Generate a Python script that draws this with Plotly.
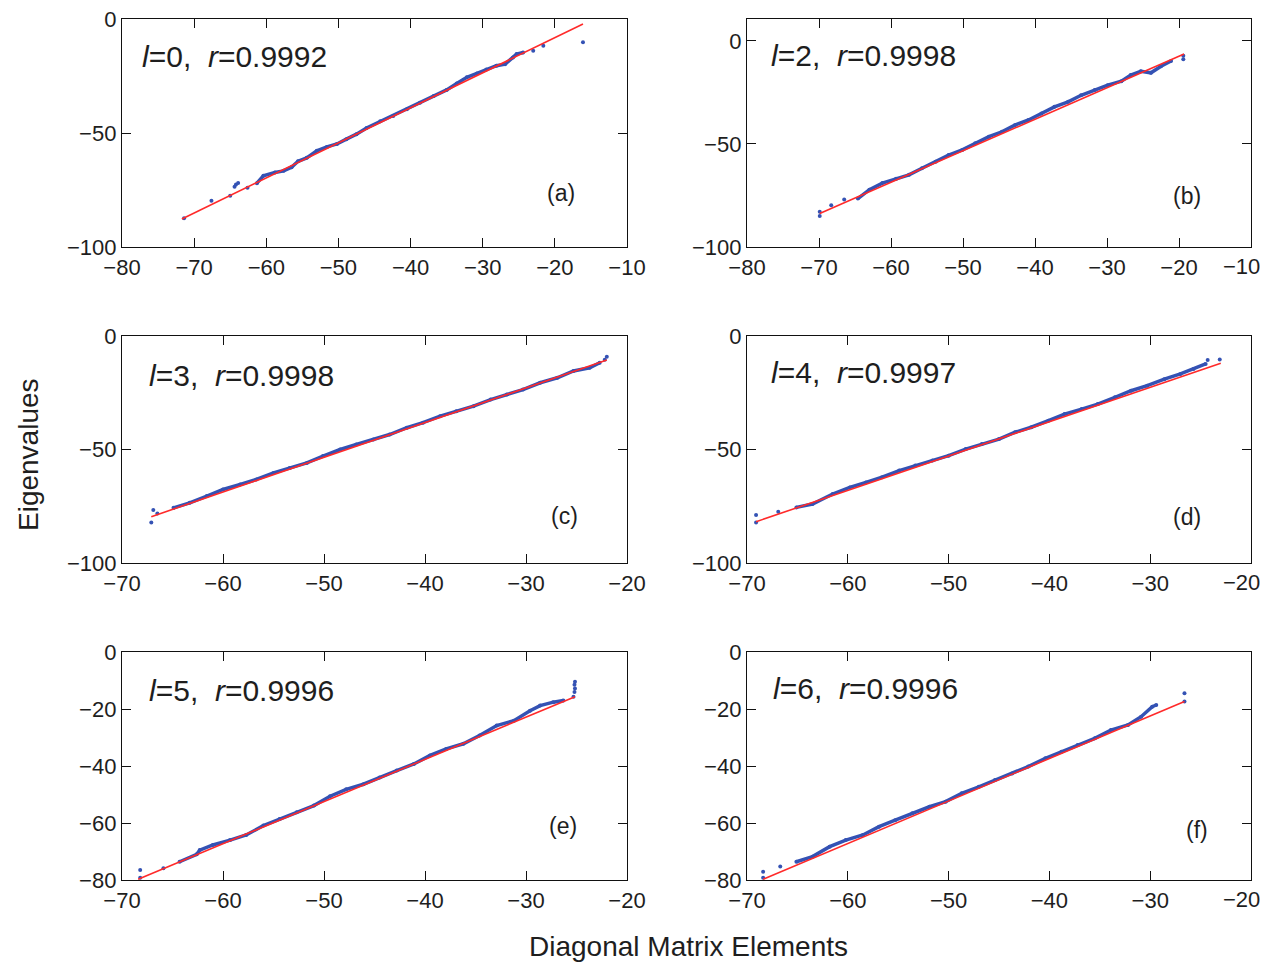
import plotly.graph_objects as go
from plotly.subplots import make_subplots

# ---------------- data ----------------
panel_labels = ["(a)", "(b)", "(c)", "(d)", "(e)", "(f)"]
panel_l = ["0", "2", "3", "4", "5", "6"]
panel_r = ["0.9992", "0.9998", "0.9998", "0.9997", "0.9996", "0.9996"]

# panel (a)
a_band_x = [-61.3, -60.4, -58.8, -57.6, -56.5, -55.6, -54.4, -53.0, -51.6, -50.2, -48.9,
            -47.5, -46.1, -44.2, -42.4, -40.5, -38.7, -36.8, -35.0, -33.6, -32.2, -30.8, -29.5, -28.1, -26.9,
            -25.8, -25.3, -24.4]
a_band_y = [-72.0, -68.8, -67.3, -66.6, -65.0, -62.4, -60.9, -57.8, -56.1, -54.8, -52.7,
            -50.5, -47.8, -44.9, -42.5, -39.6, -36.7, -33.8, -31.1, -28.3, -25.6, -23.9, -22.2, -20.5, -19.8,
            -16.9, -15.4, -14.7]
a_iso_x = [-71.4, -67.6, -65.0, -64.4, -64.2, -63.9, -62.6, -23.0, -21.6, -16.1]
a_iso_y = [-87.4, -79.7, -77.5, -73.6, -72.6, -71.9, -74.0, -13.9, -11.7, -10.2]
a_fit_x = [-71.7, -16.1]
a_fit_y = [-87.7, -2.2]

# panel (b)
b_band_x = [-64.6, -63.0, -61.2, -59.3, -57.5, -55.7, -53.8, -52.0, -50.1, -48.3, -46.4, -44.6, -42.8, -40.9,
            -39.1, -37.3, -35.4, -33.6, -31.7, -29.9, -28.0, -26.7, -25.3, -23.9, -22.5, -21.1]
b_band_y = [-76.5, -72.2, -69.0, -66.9, -65.0, -61.8, -58.6, -55.4, -52.9, -49.7, -46.5, -44.1, -40.9, -38.4,
            -35.2, -32.0, -29.6, -26.4, -23.9, -21.5, -19.6, -16.6, -14.8, -15.5, -12.3, -9.8]
b_iso_x = [-69.9, -69.9, -68.3, -66.5, -19.4, -19.4]
b_iso_y = [-85.0, -82.9, -79.7, -77.0, -7.2, -8.9]
b_fit_x = [-69.9, -19.3]
b_fit_y = [-83.7, -6.4]

# panel (c)
c_band_x = [-64.9, -63.3, -61.6, -60.0, -58.3, -56.7, -55.0, -53.4, -51.7, -50.1, -48.4, -46.8, -45.1, -43.5,
            -41.8, -40.2, -38.5, -36.9, -35.2, -33.5, -31.9, -30.3, -28.6, -26.9, -25.3, -23.7, -22.7]
c_band_y = [-75.7, -73.5, -70.5, -67.6, -65.4, -63.2, -60.3, -58.1, -55.9, -52.9, -50.0, -47.8, -45.6, -43.4,
            -40.4, -38.2, -35.3, -33.1, -30.9, -28.0, -25.8, -23.6, -20.6, -18.4, -15.4, -14.0, -11.8]
c_iso_x = [-67.1, -66.9, -66.5, -22.0, -22.2]
c_iso_y = [-82.2, -76.7, -78.2, -9.1, -10.5]
c_fit_x = [-67.1, -22.0]
c_fit_y = [-79.6, -10.6]

# panel (d)
d_band_x = [-65.1, -63.5, -61.5, -59.8, -58.2, -56.6, -54.9, -53.3, -51.6, -50.0, -48.3, -46.7, -45.0, -43.4,
            -41.8, -40.1, -38.5, -36.8, -35.2, -33.5, -31.9, -30.3, -28.6, -27.0, -25.7, -24.5]
d_band_y = [-75.5, -74.0, -69.6, -66.7, -64.5, -62.2, -59.3, -57.1, -54.9, -52.7, -49.8, -47.6, -45.4, -42.4,
            -40.2, -37.3, -34.4, -32.2, -30.0, -27.0, -24.1, -21.9, -19.0, -16.7, -14.5, -12.3]
d_iso_x = [-69.1, -69.1, -66.9, -24.3, -23.1]
d_iso_y = [-82.2, -78.8, -77.4, -10.6, -10.3]
d_fit_x = [-69.1, -23.0]
d_fit_y = [-81.8, -12.0]

# panel (e)
e_band_x = [-64.3, -62.6, -62.3, -61.0, -59.3, -57.7, -56.0, -54.4, -52.7, -51.0, -49.4, -47.8, -46.1, -44.5,
            -42.8, -41.1, -39.5, -37.9, -36.2, -34.6, -32.9, -31.2, -29.6, -28.6, -27.3, -26.3]
e_band_y = [-73.6, -71.0, -69.5, -67.7, -66.0, -64.2, -60.9, -58.6, -56.2, -53.9, -50.6, -48.2, -46.4, -44.0,
            -41.6, -39.3, -36.3, -34.0, -32.2, -29.3, -25.8, -24.1, -20.6, -18.8, -17.6, -17.0]
e_iso_x = [-68.2, -68.2, -65.9, -25.3, -25.2, -25.2, -25.15, -25.15]
e_iso_y = [-76.5, -79.2, -75.9, -15.7, -14.0, -11.5, -12.8, -10.4]
e_fit_x = [-68.4, -25.15]
e_fit_y = [-79.7, -15.7]

# panel (f)
f_band_x = [-65.1, -63.5, -61.8, -60.2, -58.5, -56.9, -55.3, -53.6, -51.9, -50.3, -48.7, -47.0, -45.4, -43.7,
            -42.1, -40.4, -38.8, -37.2, -35.5, -33.9, -32.2, -30.9, -29.8, -29.4]
f_band_y = [-73.6, -71.8, -68.3, -66.0, -64.2, -61.3, -59.0, -56.6, -54.3, -52.5, -49.6, -47.3, -44.9, -42.6,
            -40.2, -37.3, -35.0, -32.6, -30.3, -27.4, -25.6, -22.7, -19.2, -18.6]
f_iso_x = [-68.4, -68.4, -66.7, -26.6, -26.6]
f_iso_y = [-79.2, -77.1, -75.3, -14.5, -17.4]
f_fit_x = [-68.4, -26.6]
f_fit_y = [-79.7, -17.4]

x_ranges = [[-80, -10], [-80, -10], [-70, -20], [-70, -20], [-70, -20], [-70, -20]]
y_ranges = [[-100, 0], [-100, 10.6], [-100, 0], [-100, 0], [-80, 0], [-80, 0]]
y_dticks = [50, 50, 50, 50, 20, 20]

panels = [
    (a_band_x, a_band_y, a_iso_x, a_iso_y, a_fit_x, a_fit_y),
    (b_band_x, b_band_y, b_iso_x, b_iso_y, b_fit_x, b_fit_y),
    (c_band_x, c_band_y, c_iso_x, c_iso_y, c_fit_x, c_fit_y),
    (d_band_x, d_band_y, d_iso_x, d_iso_y, d_fit_x, d_fit_y),
    (e_band_x, e_band_y, e_iso_x, e_iso_y, e_fit_x, e_fit_y),
    (f_band_x, f_band_y, f_iso_x, f_iso_y, f_fit_x, f_fit_y),
]

# ---------------- layout / style ----------------
OFF = 8                      # page body margin in the browser
W, H = 1270 - OFF, 967 - OFF
FONT = "Liberation Sans, Arial, Helvetica, sans-serif"
TXT = "#1e1e1e"
BLUE = "#3452b4"
RED = "#ff2a2a"
TICK_SIZE = 22


def px(x):
    return (x - OFF) / W


def py(y):
    return 1 - (y - OFF) / H


def fmt(v):
    return ("\u2212" + str(-v)) if v < 0 else str(v)


x_domains = [[px(122), px(627)], [px(747), px(1251)]]
y_domains = [[py(247), py(19)], [py(563), py(336)], [py(880), py(652)]]

text_pos = [(0.036, 0.836), (0.043, 0.840), (0.050, 0.828), (0.043, 0.839), (0.050, 0.833), (0.048, 0.838)]
label_pos = [(0.869, 0.237), (0.874, 0.223), (0.877, 0.207), (0.874, 0.203), (0.873, 0.237), (0.893, 0.219)]

fig = make_subplots(rows=3, cols=2)

for i, (bx, by, ix, iy, fx, fy) in enumerate(panels):
    row, col = i // 2 + 1, i % 2 + 1
    fig.add_trace(go.Scatter(x=bx, y=by, mode="lines+markers",
                             line=dict(color=BLUE, width=3.5),
                             marker=dict(color=BLUE, size=4),
                             showlegend=False, hoverinfo="skip"), row=row, col=col)
    fig.add_trace(go.Scatter(x=ix, y=iy, mode="markers",
                             marker=dict(color=BLUE, size=4),
                             showlegend=False, hoverinfo="skip"), row=row, col=col)
    fig.add_trace(go.Scatter(x=fx, y=fy, mode="lines",
                             line=dict(color=RED, width=1.6),
                             showlegend=False, hoverinfo="skip"), row=row, col=col)

axis_common = dict(showline=True, linecolor="#111111", linewidth=1.3, mirror="ticks",
                   ticks="inside", ticklen=9, tickwidth=1.3, tickcolor="#111111",
                   showgrid=False, zeroline=False, automargin=False,
                   ticklabeloverflow="allow",
                   tickfont=dict(family=FONT, size=TICK_SIZE, color=TXT))

for i in range(6):
    row, col = i // 2 + 1, i % 2 + 1
    suffix = "" if i == 0 else str(i + 1)
    x0, x1 = x_ranges[i]
    xt = list(range(x0, x1 + 1, 10))
    xtext = [fmt(v) for v in xt]
    if col == 2:
        # last label sits at the page edge: drawn as a text nudged inside the page
        xtext_axis = xtext[:-1] + [""]
    else:
        xtext_axis = xtext
    fig.layout["xaxis" + suffix].update(domain=x_domains[col - 1], range=x_ranges[i],
                                        tickmode="array", tickvals=xt, ticktext=xtext_axis,
                                        **axis_common)
    fig.layout["yaxis" + suffix].update(domain=y_domains[row - 1], range=y_ranges[i],
                                        dtick=y_dticks[i], tick0=0, **axis_common)
    xref = "x" + suffix + " domain"
    yref = "y" + suffix + " domain"
    if col == 2:
        fig.add_annotation(x=1.0, y=0.0, xref=xref, yref=yref, xanchor="right", yanchor="middle",
                           xshift=11, yshift=-19, showarrow=False, text=xtext[-1],
                           font=dict(family=FONT, size=TICK_SIZE, color=TXT))
    tx, ty = text_pos[i]
    fig.add_annotation(x=tx, y=ty, xref=xref, yref=yref, xanchor="left", yanchor="middle",
                       showarrow=False,
                       text="<i>l</i>=" + panel_l[i] + ",\u00a0\u00a0<i>r</i>=" + panel_r[i],
                       font=dict(family=FONT, size=30, color=TXT))
    lx, ly = label_pos[i]
    fig.add_annotation(x=lx, y=ly, xref=xref, yref=yref, xanchor="center", yanchor="middle",
                       showarrow=False, text=panel_labels[i],
                       font=dict(family=FONT, size=23, color=TXT))

fig.add_annotation(x=px(28), y=py(455), xref="paper", yref="paper", showarrow=False,
                   text="Eigenvalues", textangle=-90, xanchor="center", yanchor="middle",
                   font=dict(family=FONT, size=28, color=TXT))
fig.add_annotation(x=px(688), y=py(946), xref="paper", yref="paper", showarrow=False,
                   text="Diagonal Matrix Elements", xanchor="center", yanchor="middle",
                   font=dict(family=FONT, size=28, color=TXT))

fig.update_layout(width=W, height=H, margin=dict(l=0, r=0, t=0, b=0, autoexpand=False),
                  paper_bgcolor="white", plot_bgcolor="white",
                  font=dict(family=FONT, color=TXT))

fig.write_html("out.html")
